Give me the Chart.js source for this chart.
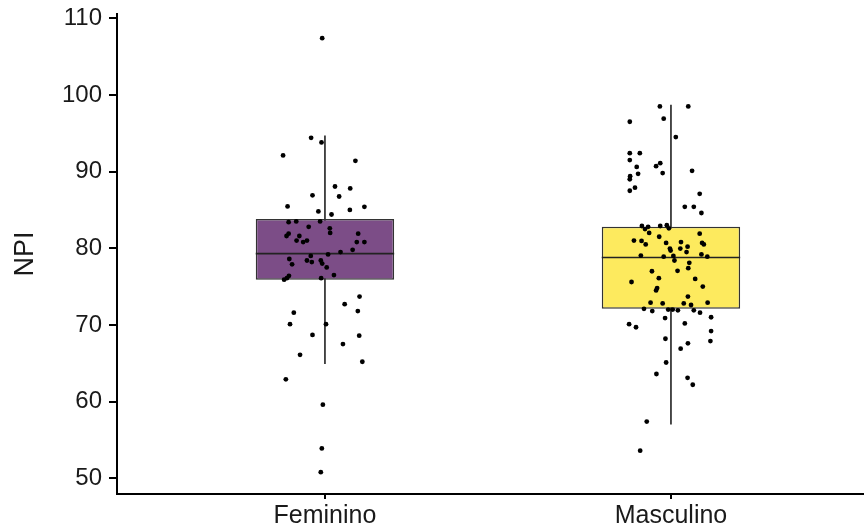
<!DOCTYPE html>
<html>
<head>
<meta charset="utf-8">
<script src="https://cdn.jsdelivr.net/npm/chart.js@4"></script>
<style>
  html, body { margin: 0; padding: 0; background: #fff; }
  #wrap { width: 867px; height: 529px; }
</style>
</head>
<body>
<div id="wrap"><canvas id="chart"></canvas></div>
<script>
// ── data ────────────────────────────────────────────────────────────────────
const groups   = ['Feminino', 'Masculino'];
const groupPos = [1, 2];
const yTicks   = [50, 60, 70, 80, 90, 100, 110];

// box summaries
const whiskerLo = [64.9, 57.0];
const q1        = [75.9, 72.1];
const median    = [79.3, 78.8];
const q3        = [83.8, 82.8];
const whiskerHi = [94.7, 98.7];

// jittered points: horizontal offset from the group centre, and NPI value
const femOffset = [-0.008, -0.040, -0.010, -0.121, 0.088, 0.029, 0.073, -0.036, 0.041, -0.108,
  -0.019, 0.019, 0.072, 0.114, -0.105, -0.083, -0.014, -0.047, 0.014, 0.015,
  -0.105, -0.111, -0.074, 0.096, -0.082, -0.063, -0.052, 0.092, 0.114, 0.080,
  0.045, 0.009, -0.041, -0.103, -0.052, -0.038, -0.012, -0.008, -0.095, 0.005,
  -0.104, -0.110, -0.118, 0.026, -0.011, 0.100, 0.057, 0.095, -0.090, -0.101,
  0.003, -0.036, 0.099, 0.052, -0.072, 0.108, -0.113, -0.006, -0.009, -0.012];
const femNPI = [107.4, 94.4, 93.8, 92.1, 91.4, 88.05, 87.8, 86.9, 86.75, 85.45,
  84.8, 84.4, 85.0, 85.4, 83.4, 83.5, 83.5, 82.8, 82.6, 82.0,
  81.9, 81.6, 81.6, 81.9, 81.0, 80.8, 81.0, 80.8, 80.8, 79.8,
  79.5, 79.2, 79.0, 78.6, 78.4, 78.2, 78.4, 78.0, 77.9, 77.5,
  76.4, 76.1, 75.9, 76.5, 76.1, 73.7, 72.7, 71.8, 71.6, 70.1,
  70.1, 68.7, 68.6, 67.5, 66.1, 65.2, 62.9, 59.6, 53.9, 50.8];

const mascOffset = [-0.032, 0.050, -0.119, -0.021, 0.014, -0.119, -0.090, -0.119, -0.043, -0.031,
  -0.099, 0.061, -0.024, -0.095, -0.118, -0.119, -0.104, -0.119, 0.083, 0.040,
  0.066, 0.088, -0.084, -0.066, -0.031, -0.012, -0.006, -0.075, -0.063, -0.107,
  -0.034, -0.085, -0.073, 0.083, 0.090, 0.095, -0.014, 0.029, 0.048, -0.003,
  0.027, -0.001, 0.045, -0.087, -0.021, 0.007, 0.010, 0.088, 0.105, 0.053,
  0.050, -0.055, 0.019, -0.114, -0.035, 0.070, -0.040, -0.043, 0.092, 0.049,
  -0.059, -0.024, 0.037, 0.058, 0.106, -0.078, -0.054, -0.008, 0.005, 0.020,
  0.066, 0.084, 0.116, -0.017, -0.121, -0.101, 0.040, 0.116, -0.016, 0.114,
  0.049, 0.028, -0.014, -0.042, 0.048, 0.063, -0.070, -0.089];
const mascNPI = [98.5, 98.5, 96.5, 96.9, 94.5, 92.4, 92.4, 91.5, 90.7, 91.1,
  90.6, 90.1, 89.8, 89.7, 89.4, 89.0, 87.9, 87.5, 87.1, 85.4,
  85.4, 84.6, 82.9, 82.8, 82.9, 83.0, 82.6, 82.5, 82.0, 81.0,
  81.5, 80.95, 80.5, 81.9, 80.7, 80.5, 80.7, 80.8, 80.2, 79.96,
  79.96, 79.7, 79.5, 79.05, 78.9, 79.0, 78.4, 79.2, 78.9, 78.1,
  77.4, 77.0, 77.05, 75.6, 76.1, 76.0, 74.8, 74.5, 75.0, 73.7,
  72.9, 72.8, 72.8, 72.6, 72.9, 72.1, 71.8, 72.0, 72.0, 71.9,
  71.9, 71.6, 71.0, 70.9, 70.1, 69.7, 70.2, 69.2, 68.2, 67.9,
  67.6, 66.9, 65.1, 63.6, 63.1, 62.2, 57.4, 53.6];

// ── styling ─────────────────────────────────────────────────────────────────
const BOX_FILL  = ['#7c4d87', '#fdea5e'];
const BOX_LINE  = '#333333';
const BOX_WIDTH = 0.4;            // in x units (groups are 1 apart)
const FONT      = "'Liberation Sans', Arial, sans-serif";

Chart.defaults.font.family = FONT;
Chart.defaults.color = '#1a1a1a';

// ── datasets ────────────────────────────────────────────────────────────────
const whiskerSets = groupPos.map((p, i) => ({
  type: 'line',
  data: [{ x: p, y: whiskerLo[i] }, { x: p, y: whiskerHi[i] }],
  borderColor: '#111',
  borderWidth: 1.5,
  pointRadius: 0,
  order: 4,
}));

const boxSet = {
  type: 'bar',
  data: groupPos.map((p, i) => ({ x: p, y: [q1[i], q3[i]] })),
  backgroundColor: BOX_FILL,
  borderColor: BOX_LINE,
  borderWidth: 1.5,
  borderSkipped: false,
  barPercentage: BOX_WIDTH,
  categoryPercentage: 1,
  order: 3,
};

const medianSets = groupPos.map((p, i) => ({
  type: 'line',
  data: [{ x: p - BOX_WIDTH / 2, y: median[i] }, { x: p + BOX_WIDTH / 2, y: median[i] }],
  borderColor: '#222',
  borderWidth: 1.6,
  pointRadius: 0,
  order: 2,
}));

const pointSet = {
  type: 'scatter',
  data: [
    ...femOffset.map((o, i) => ({ x: groupPos[0] + o, y: femNPI[i] })),
    ...mascOffset.map((o, i) => ({ x: groupPos[1] + o, y: mascNPI[i] })),
  ],
  backgroundColor: '#000',
  borderWidth: 0,
  pointRadius: 2.4,
  order: 1,
};

new Chart(document.getElementById('chart'), {
  type: 'scatter',
  data: { datasets: [...whiskerSets, boxSet, ...medianSets, pointSet] },
  options: {
    responsive: true,
    maintainAspectRatio: false,
    animation: false,
    layout: { padding: { top: 14, right: 0, bottom: 0, left: 0 } },
    plugins: { legend: { display: false }, tooltip: { enabled: false } },
    scales: {
      x: {
        type: 'linear',
        offset: false,
        min: 0.399,
        max: 2.555,
        afterBuildTicks: axis => { axis.ticks = groupPos.map(v => ({ value: v })); },
        afterFit: axis => { axis.height = 35; axis.paddingLeft = 0; axis.paddingRight = 0; },
        grid: { display: true, offset: false, drawOnChartArea: false, drawTicks: true, tickLength: 5, color: '#000', lineWidth: 2 },
        border: { display: true, color: '#000', width: 2 },
        ticks: {
          autoSkip: false,
          maxRotation: 0,
          padding: 2,
          font: { size: 25 },
          callback: v => groups[groupPos.indexOf(v)],
        },
      },
      y: {
        min: 47.95,
        max: 110.55,
        afterBuildTicks: axis => { axis.ticks = yTicks.map(v => ({ value: v })); },
        afterFit: axis => { axis.width = 117; axis.paddingTop = 0; axis.paddingBottom = 0; },
        grid: { display: true, drawOnChartArea: false, drawTicks: true, tickLength: 8, color: '#000', lineWidth: 2 },
        border: { display: true, color: '#000', width: 2 },
        ticks: { padding: 7, font: { size: 24 } },
        title: { display: true, text: 'NPI', font: { size: 27 }, padding: { top: 9, bottom: 0 } },
      },
    },
  },
});
</script>
</body>
</html>
